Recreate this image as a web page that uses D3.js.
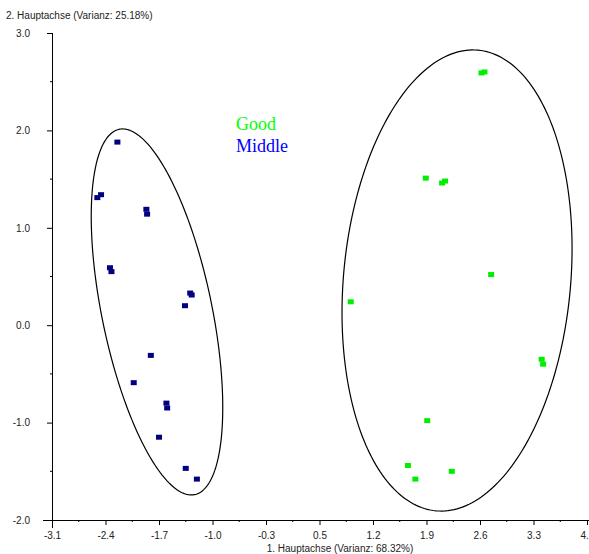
<!DOCTYPE html>
<html>
<head>
<meta charset="utf-8">
<script src="https://cdn.jsdelivr.net/npm/d3@7"></script>
<style>
    body { margin: 0; background: #fff; }
    svg text { font-family: Arial, "Liberation Sans", sans-serif; }
</style>
</head>
<body>
<div id="chart"></div>
<script>
// group "Good" (green)
var goodX = [2.64, 2.68, 1.89, 2.11, 2.15, 2.77, 0.88, 3.45, 3.47, 1.91, 1.65, 1.75, 2.24];
var goodY = [2.59, 2.60, 1.51, 1.46, 1.48, 0.52, 0.24, -0.35, -0.40, -0.98, -1.44, -1.58, -1.50];

// group "Middle" (navy)
var middleX = [-2.26, -2.53, -2.48, -1.87, -1.86, -2.36, -2.34, -1.28, -1.26, -1.35, -1.81, -2.04, -1.60, -1.59, -1.70, -1.34, -1.19];
var middleY = [1.88, 1.31, 1.34, 1.19, 1.14, 0.59, 0.55, 0.33, 0.31, 0.20, -0.31, -0.59, -0.80, -0.85, -1.15, -1.47, -1.58];

// ellipses round each group: centre, half width, half height, x shift of the top point
var ellipseNames = ["Middle", "Good"];
var ellipseCx = [-1.727, 2.311];
var ellipseCy = [0.136, 0.459];
var ellipseRx = [0.885, 1.548];
var ellipseRy = [1.879, 2.367];
var ellipseTop = [-0.462, 0.215];

var xTickLabels = ["-3.1", "-2.4", "-1.7", "-1.0", "-0.3", "0.5", "1.2", "1.9", "2.6", "3.3", "4.1"];
var yTickLabels = ["-2.0", "-1.0", "0.0", "1.0", "2.0", "3.0"];

var xMin = -3.14, xStep = 0.72;
var yMin = -2, yMax = 3;

var width = 589;
var height = 554;

var svg = d3.select("#chart").append("svg")
    .attr("width", width)
    .attr("height", height);

var xScale = d3.scaleLinear()
    .domain([xMin, xMin + 10 * xStep])
    .range([52, 587]);
var yScale = d3.scaleLinear()
    .domain([yMin, yMax])
    .range([520, 33]);

var xTicks = xTickLabels.map(function (d, i) { return xMin + i * xStep; });
var xMinor = d3.range(10).map(function (i) { return xMin + (i + 0.5) * xStep; });
var yTicks = yTickLabels.map(function (d) { return +d; });
var yMinor = d3.range(5).map(function (i) { return yMin + i + 0.5; });

// X axis
var xAxisG = svg.append("g")
    .attr("transform", "translate(0," + yScale(yMin) + ")")
    .call(d3.axisBottom(xScale)
        .tickValues(xTicks)
        .tickFormat(function (d, i) { return xTickLabels[i]; })
        .tickSizeInner(5)
        .tickSizeOuter(0)
        .tickPadding(7));
xAxisG.select(".domain").remove();
xAxisG.selectAll("text").style("font-size", "10px").attr("fill", "#222");
xAxisG.selectAll(".minor").data(xMinor).enter().append("line")
    .attr("x1", function (d) { return xScale(d); })
    .attr("x2", function (d) { return xScale(d); })
    .attr("y1", 0).attr("y2", 2)
    .attr("stroke", "#000");
xAxisG.append("line")
    .attr("x1", xScale(xMin) - 9).attr("x2", width)
    .attr("y1", 0.5).attr("y2", 0.5)
    .attr("stroke", "#000");

// Y axis
var yAxisG = svg.append("g")
    .attr("transform", "translate(" + xScale(xMin) + ",0)")
    .call(d3.axisLeft(yScale)
        .tickValues(yTicks)
        .tickFormat(function (d, i) { return yTickLabels[i]; })
        .tickSizeInner(5)
        .tickSizeOuter(0)
        .tickPadding(17));
yAxisG.select(".domain").remove();
yAxisG.selectAll("text").style("font-size", "10px").attr("fill", "#222");
yAxisG.selectAll(".minor").data(yMinor).enter().append("line")
    .attr("y1", function (d) { return yScale(d); })
    .attr("y2", function (d) { return yScale(d); })
    .attr("x1", -2).attr("x2", 0)
    .attr("stroke", "#000");
yAxisG.append("line")
    .attr("x1", 0.5).attr("x2", 0.5)
    .attr("y1", yScale(yMax)).attr("y2", yScale(yMin) + 8)
    .attr("stroke", "#000");

// axis titles
svg.append("text")
    .attr("x", 6).attr("y", 19)
    .style("font-size", "10px")
    .attr("fill", "#222")
    .text("2. Hauptachse (Varianz: 25.18%)");
svg.append("text")
    .attr("x", 340).attr("y", 552)
    .attr("text-anchor", "middle")
    .style("font-size", "10px")
    .attr("fill", "#222")
    .text("1. Hauptachse (Varianz: 68.32%)");

// ellipses
var ellipseLine = d3.line()
    .x(function (d) { return xScale(d[0]); })
    .y(function (d) { return yScale(d[1]); })
    .curve(d3.curveLinearClosed);

ellipseNames.forEach(function (name, k) {
    var alpha = Math.acos(ellipseTop[k] / ellipseRx[k]);
    var pts = d3.range(240).map(function (i) {
        var t = i / 240 * 2 * Math.PI;
        return [ellipseCx[k] + ellipseRx[k] * Math.cos(t),
                ellipseCy[k] + ellipseRy[k] * Math.cos(t + alpha)];
    });
    svg.append("path")
        .attr("d", ellipseLine(pts))
        .attr("fill", "none")
        .attr("stroke", "#000")
        .attr("stroke-width", 1.2);
});

// points
function drawPoints(xs, ys, color) {
    svg.append("g").selectAll("rect")
        .data(xs)
        .enter()
        .append("rect")
        .attr("x", function (d) { return xScale(d) - 3; })
        .attr("y", function (d, i) { return yScale(ys[i]) - 2.5; })
        .attr("width", 6)
        .attr("height", 5)
        .attr("fill", color);
}
drawPoints(goodX, goodY, "#00ee00");
drawPoints(middleX, middleY, "#000080");

// legend
svg.append("text")
    .attr("x", 236).attr("y", 130)
    .style("font-family", "'Liberation Serif', 'Times New Roman', serif")
    .style("font-size", "18px")
    .attr("fill", "#00ff00")
    .text("Good");
svg.append("text")
    .attr("x", 236).attr("y", 152)
    .style("font-family", "'Liberation Serif', 'Times New Roman', serif")
    .style("font-size", "18px")
    .attr("fill", "#0000ff")
    .text("Middle");
</script>
</body>
</html>
